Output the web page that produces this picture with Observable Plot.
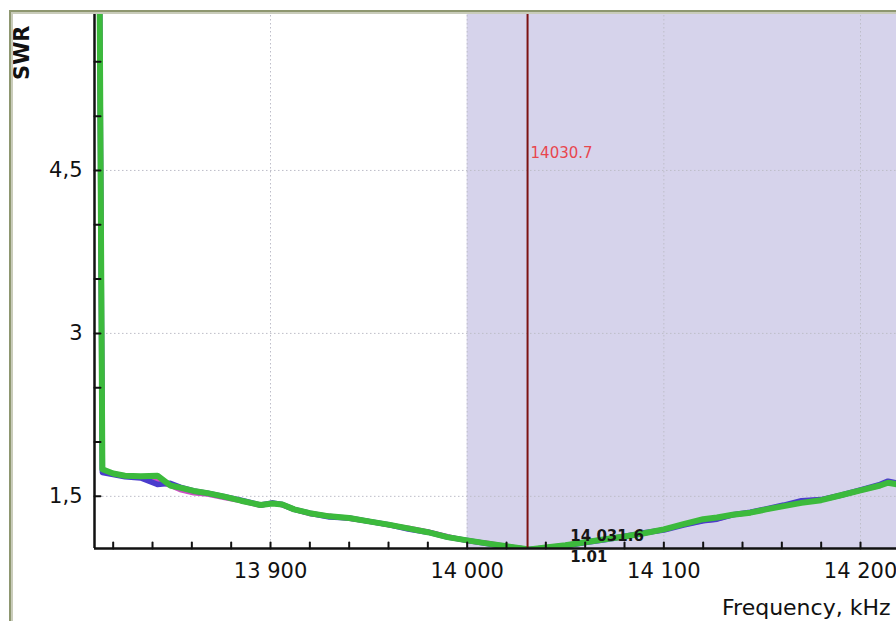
<!DOCTYPE html>
<html><head><meta charset="utf-8">
<script src="https://cdn.jsdelivr.net/npm/d3@7"></script>
<script src="https://cdn.jsdelivr.net/npm/@observablehq/plot@0.6"></script>
<style>
body{margin:0;background:#fff;}
#wrap{position:relative;width:896px;height:621px;overflow:hidden;}
#maskTop{position:absolute;left:0;top:0;width:896px;height:10px;background:#fff;}
#maskLeft{position:absolute;left:0;top:0;width:9px;height:621px;background:#fff;}
#frame{position:absolute;left:9px;top:10px;width:900px;height:620px;border-top:2px solid #8e9770;border-left:2px solid #8e9770;box-shadow:inset 2px 2px 0 #c9ccba;}
</style>
</head><body>
<div id="wrap"><div id="chart"></div><div id="maskTop"></div><div id="maskLeft"></div><div id="frame"></div></div>
<script>
// ---- data ----
const freq = [13812.5,13814.5,13820,13826,13834,13842.5,13849,13854,13861,13868,13876,13885,13895,13901,13906,13912,13920,13930,13940,13950,13960,13970,13980,13990,14000,14010,14020,14031.6,14040,14050,14060,14070,14080,14090,14100,14110,14120,14127,14135,14144,14152,14161,14170,14180,14190,14200,14210,14214,14219];
const swrGreen = [8.0,1.75,1.71,1.69,1.685,1.69,1.60,1.58,1.55,1.53,1.50,1.46,1.42,1.435,1.425,1.38,1.345,1.316,1.30,1.27,1.24,1.205,1.17,1.125,1.095,1.067,1.04,1.01,1.03,1.05,1.077,1.105,1.13,1.16,1.196,1.245,1.29,1.305,1.33,1.35,1.38,1.41,1.44,1.465,1.51,1.555,1.60,1.625,1.61];
const swrBlue  = [8.0,1.72,1.70,1.68,1.67,1.61,1.62,1.585,1.55,1.53,1.50,1.465,1.42,1.44,1.425,1.38,1.345,1.31,1.30,1.27,1.24,1.20,1.17,1.125,1.095,1.065,1.035,1.01,1.025,1.045,1.075,1.10,1.13,1.165,1.19,1.235,1.275,1.29,1.33,1.355,1.385,1.42,1.46,1.47,1.51,1.56,1.61,1.64,1.62];
const swrPink  = [8.0,1.74,1.71,1.69,1.68,1.64,1.60,1.56,1.53,1.52,1.49,1.46,1.415,1.44,1.42,1.38,1.34,1.32,1.295,1.27,1.235,1.21,1.175,1.13,1.09,1.07,1.04,1.01,1.03,1.05,1.08,1.105,1.135,1.16,1.195,1.24,1.275,1.29,1.33,1.35,1.38,1.415,1.455,1.47,1.51,1.555,1.60,1.63,1.61];
const xMajor = [13900,14000,14100,14200];
const xMinor = d3.range(13820,14220,20);
const yMajor = [1.5,3,4.5,6];
const yMinor = d3.range(1.5,6.01,0.5);
const xDomain = [13810.5,14218.3];
const yDomain = [1.02,6];
const band = [{start:14000,end:14350}];
const marker = [14030.7];
const minPoint = [{f:14031.6, s:1.01}];
const axisXLabel = "Frequency, kHz";
const axisYLabel = "SWR";

const toRows = arr => freq.map((f,i)=>({f, s:arr[i]}));
const tickShapeUp = {draw(ctx,l){ctx.moveTo(0,0);ctx.lineTo(0,-l);}};

const chart = Plot.plot({
  width:896, height:621,
  marginLeft:94, marginRight:0, marginTop:7, marginBottom:73,
  x:{domain:xDomain},
  y:{domain:yDomain},
  style:{fontFamily:"DejaVu Sans", fontSize:"21px", color:"#111", background:"#fff"},
  marks:[
    Plot.rect(band,{x1:"start",x2:"end",fill:"#d6d3eb",clip:true}),
    Plot.ruleX(xMajor,{stroke:"#bdbdc8",strokeDasharray:"1.5,2.5",strokeWidth:1}),
    Plot.ruleY(yMajor.filter(v=>v<6),{stroke:"#bdbdc8",strokeDasharray:"1.5,2.5",strokeWidth:1}),
    Plot.line(toRows(swrPink),{x:"f",y:"s",stroke:"#cc4cc4",strokeWidth:5,clip:true}),
    Plot.line(toRows(swrBlue),{x:"f",y:"s",stroke:"#4a3ccc",strokeWidth:5.5,clip:true}),
    Plot.line(toRows(swrGreen),{x:"f",y:"s",stroke:"#3cba3c",strokeWidth:6,clip:true}),
    Plot.ruleX(marker,{stroke:"#7c1212",strokeWidth:2}),
    Plot.ruleX([xDomain[0]],{stroke:"#111",strokeWidth:2.5}),
    Plot.ruleY([yDomain[0]],{stroke:"#111",strokeWidth:2.5}),
    Plot.vector(xMinor,{x:d=>d,frameAnchor:"bottom",length:6,rotate:0,anchor:"start",shape:tickShapeUp,stroke:"#111",strokeWidth:2}),
    Plot.vector(yMinor,{y:d=>d,frameAnchor:"left",length:6,rotate:90,anchor:"start",shape:tickShapeUp,stroke:"#111",strokeWidth:2}),
    Plot.axisX(xMajor,{tickSize:0,tickPadding:15,label:null,fontSize:21,tickFormat:d=>d3.format(",")(d).replace(","," ")}),
    Plot.axisY(yMajor,{tickSize:0,tickPadding:12,label:null,fontSize:21,tickFormat:d=>String(d).replace(".",",")}),
    Plot.text([axisXLabel],{frameAnchor:"bottom-right",dx:-6,dy:59,textAnchor:"end",lineAnchor:"middle",fontSize:22,fill:"#111"}),
    Plot.text([axisYLabel],{frameAnchor:"top-left",dx:-72,dy:18,rotate:-90,textAnchor:"end",lineAnchor:"middle",fontSize:21,fontWeight:"bold",fill:"#111"}),
    Plot.text(marker,{x:d=>d,frameAnchor:"top",dy:146,dx:3,textAnchor:"start",lineAnchor:"middle",text:d=>String(d),fontSize:15,fill:"#e8464e"}),
    Plot.text(minPoint,{x:"f",y:"s",dx:41,dy:-13,textAnchor:"start",lineAnchor:"middle",text:d=>d3.format(",.1f")(d.f).replace(","," "),fontSize:15,fontWeight:"bold",fill:"#161616"}),
    Plot.text(minPoint,{x:"f",y:"s",dx:41,dy:8,textAnchor:"start",lineAnchor:"middle",text:d=>d3.format(".2f")(d.s),fontSize:15,fontWeight:"bold",fill:"#161616"})
  ]
});
document.getElementById("chart").appendChild(chart);
</script>
</body></html>
